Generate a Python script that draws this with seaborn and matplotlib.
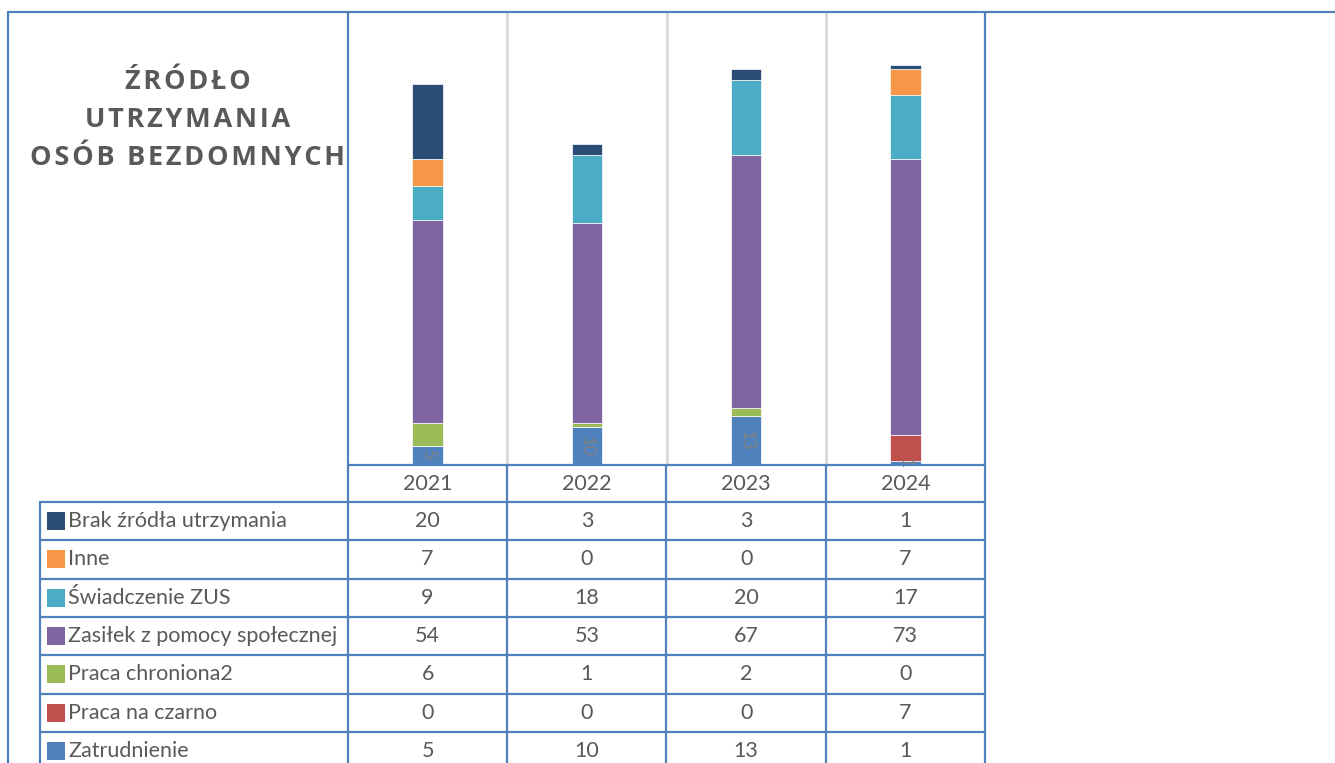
import numpy as np
import pandas as pd
import matplotlib
matplotlib.use("Agg")
import matplotlib.pyplot as plt
import matplotlib.transforms as mtransforms
import seaborn as sns

# dane
years = ["2021", "2022", "2023", "2024"]
# kolejność jak w tabeli (od góry)
series_names = [
    "Brak źródła utrzymania",
    "Inne",
    "Świadczenie ZUS",
    "Zasiłek z pomocy społecznej",
    "Praca chroniona2",
    "Praca na czarno",
    "Zatrudnienie",
]
brak = [20, 3, 3, 1]
inne = [7, 0, 0, 7]
zus = [9, 18, 20, 17]
zasilek = [54, 53, 67, 73]
praca_chroniona = [6, 1, 2, 0]
praca_na_czarno = [0, 0, 0, 7]
zatrudnienie = [5, 10, 13, 1]
series_values = [brak, inne, zus, zasilek, praca_chroniona, praca_na_czarno, zatrudnienie]
series_colors = ["#2C4D75", "#F79646", "#4BACC6", "#8064A2", "#9BBB59", "#C0504D", "#4F81BD"]
title = "ŹRÓDŁO\nUTRZYMANIA\nOSÓB BEZDOMNYCH"

sns.set_theme(style="white")
plt.rcParams["font.family"] = ["Lato", "DejaVu Sans"]

W, H = 1335, 763
TXT = "#595959"
BORDER = "#4F81BD"

fig = plt.figure(figsize=(W / 100, H / 100), dpi=100)
fig.patch.set_facecolor("white")

# obszar wykresu
ax = fig.add_axes([348 / W, 1 - 465 / H, (985 - 348) / W, (465 - 12) / H])
bottom = np.zeros(len(years))
# słupki skumulowane od dołu
for name, vals, col in zip(series_names[::-1], series_values[::-1], series_colors[::-1]):
    sns.barplot(x=years, y=vals, bottom=bottom, color=col, saturation=1, width=0.19,
                errorbar=None, edgecolor="white", linewidth=0.5, ax=ax)
    bottom = bottom + np.array(vals)

# etykiety tylko dla "Zatrudnienie"
ax.bar_label(ax.containers[0], label_type="center", rotation=-90, color="#808080",
             fontsize=13, fmt="%g")

ax.set_xlim(-0.5, len(years) - 0.5)
ax.set_ylim(0, 120)
ax.set_xticks([])
ax.set_yticks([])
ax.set_xlabel("")
ax.set_ylabel("")
for s in ax.spines.values():
    s.set_visible(False)
for i in range(len(years) - 1):
    ax.axvline(i + 0.5, color="#D9D9D9", lw=2, zorder=0)

# warstwa z ramkami i tabelą
ov = fig.add_axes([0, 0, 1, 1], zorder=5)
ov.set_xlim(0, W)
ov.set_ylim(H, 0)
ov.axis("off")
ov.patch.set_alpha(0)

lw = 1.6
# ramka zewnętrzna
ov.plot([8, W], [12, 12], color=BORDER, lw=lw)
ov.plot([8, 8], [12, H], color=BORDER, lw=lw)
ov.plot([348, 348], [12, H], color=BORDER, lw=lw)
ov.plot([985, 985], [12, H], color=BORDER, lw=lw)

# tabela danych
row_top = 502
row_h = 38.3
header_y = 465
ov.plot([348, 985], [header_y, header_y], color=BORDER, lw=lw)
for k in range(len(series_names) + 1):
    y = row_top + k * row_h
    ov.plot([40, 985], [y, y], color=BORDER, lw=lw)
ov.plot([40, 40], [row_top, H], color=BORDER, lw=lw)
for x in [507, 666, 826]:
    ov.plot([x, x], [header_y, H], color=BORDER, lw=lw)

trans = mtransforms.blended_transform_factory(ax.transData, ov.transData)
for i, yr in enumerate(years):
    ov.text(i, (header_y + row_top) / 2, yr, transform=trans, ha="center", va="center",
            fontsize=15.5, color=TXT)

for k, (name, vals, col) in enumerate(zip(series_names, series_values, series_colors)):
    yc = row_top + (k + 0.5) * row_h
    ov.scatter([55.5], [yc], marker="s", s=150, color=col, linewidths=0)
    ov.text(68, yc, name, ha="left", va="center", fontsize=15.5, color=TXT)
    for i, v in enumerate(vals):
        ov.text(i, yc, str(v), transform=trans, ha="center", va="center",
                fontsize=15.5, color=TXT)

# tytuł z rozstrzelonymi literami
spaced = "\n".join("\u200a".join(line) for line in title.split("\n"))
ov.text(188, 120, spaced, ha="center", va="center", fontsize=19.5, fontweight="bold",
        color=TXT, family=["Open Sans", "DejaVu Sans"], linespacing=1.6)

fig.savefig("out.png", dpi=100)
